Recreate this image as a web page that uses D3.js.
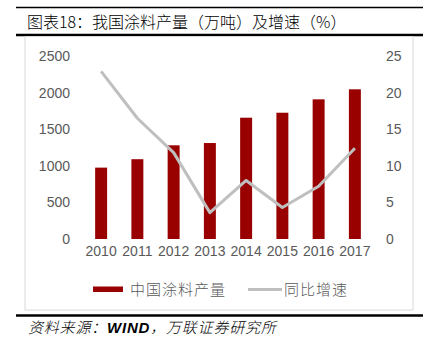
<!DOCTYPE html>
<html><head><meta charset="utf-8">
<script src="https://cdn.jsdelivr.net/npm/d3@7"></script>
<style>
html,body{margin:0;padding:0;background:#fff;}
svg{display:block;}
</style></head>
<body>
<script>
const years = ["2010","2011","2012","2013","2014","2015","2016","2017"];
const production = [975, 1090, 1280, 1311, 1657, 1725, 1908, 2045];
const growth = [22.9, 16.5, 11.8, 3.6, 8.0, 4.3, 7.2, 12.4];
const leftTicks = [0, 500, 1000, 1500, 2000, 2500];
const rightTicks = [0, 5, 10, 15, 20, 25];
const titleText = "图表18：我国涂料产量（万吨）及增速（%）";
const sourceParts = ["资料来源：", "WIND", "，万联证券研究所"];
const legendNames = ["中国涂料产量", "同比增速"];

const W = 423, H = 344;
const svg = d3.select("body").append("svg").attr("width", W).attr("height", H);
const cjk = "'Noto Sans CJK SC','Noto Sans',sans-serif";
const latin = "'Liberation Sans',Arial,sans-serif";

// frame lines
svg.append("line").attr("x1",16).attr("x2",423).attr("y1",7.5).attr("y2",7.5)
  .attr("stroke","#000").attr("stroke-width",1.5);
svg.append("line").attr("x1",16).attr("x2",423).attr("y1",35).attr("y2",35)
  .attr("stroke","#000").attr("stroke-width",2.5);
svg.append("rect").attr("x",25).attr("y",36.5).attr("width",388).attr("height",273.5)
  .attr("fill","none").attr("stroke","#d9d9d9").attr("stroke-width",1);
svg.append("line").attr("x1",16).attr("x2",423).attr("y1",315.5).attr("y2",315.5)
  .attr("stroke","#000").attr("stroke-width",2.5);

svg.append("text").attr("x",27).attr("y",27.5).text(titleText)
  .attr("font-family",cjk).attr("font-size",16).attr("font-weight",300).attr("fill","#000");
const src = svg.append("text").attr("x",28).attr("y",333)
  .attr("font-family",cjk).attr("font-size",15).attr("font-style","italic")
  .attr("font-weight",300).attr("letter-spacing",0.8).attr("fill","#000");
sourceParts.forEach((p,i)=>{
  src.append("tspan").text(p).attr("font-weight", i===1 ? 700 : 300)
    .attr("font-family", i===1 ? latin : cjk);
});

// scales
const x = d3.scaleBand().domain(years).range([83, 373]).paddingInner(0.67).paddingOuter(0.335);
const yL = d3.scaleLinear().domain([0, 2500]).range([239, 56]);
const yR = d3.scaleLinear().domain([0, 25]).range([239, 56]);

// axes
const axL = svg.append("g").attr("transform","translate(70,0)")
  .call(d3.axisLeft(yL).tickValues(leftTicks).tickFormat(d3.format("d")).tickSize(0).tickPadding(0));
const axR = svg.append("g").attr("transform","translate(386,0)")
  .call(d3.axisRight(yR).tickValues(rightTicks).tickFormat(d3.format("d")).tickSize(0).tickPadding(0));
const axB = svg.append("g").attr("transform","translate(0,246)")
  .call(d3.axisBottom(x).tickSize(0).tickPadding(0));
[axL, axR, axB].forEach(a => {
  a.select(".domain").remove();
  a.selectAll("text").attr("font-family",latin).attr("font-size",14).attr("fill","#595959");
});
axB.selectAll("text").attr("dy","0.71em");

// bars
svg.append("g").selectAll("rect").data(production).join("rect")
  .attr("x",(d,i)=>x(years[i])).attr("width",x.bandwidth())
  .attr("y",d=>yL(d)).attr("height",d=>yL(0)-yL(d))
  .attr("fill","#990000");

// line
const line = d3.line().x((d,i)=>x(years[i])+x.bandwidth()/2).y(d=>yR(d));
svg.append("path").datum(growth).attr("d",line)
  .attr("fill","none").attr("stroke","#bfbfbf").attr("stroke-width",3)
  .attr("stroke-linejoin","round");

// legend
const lg = svg.append("g");
lg.append("rect").attr("x",93).attr("y",286.5).attr("width",30).attr("height",5.5).attr("fill","#990000");
lg.append("text").attr("x",130).attr("y",294.5).text(legendNames[0])
  .attr("font-family",cjk).attr("font-size",15).attr("font-weight",300).attr("letter-spacing",1).attr("fill","#595959");
lg.append("line").attr("x1",248).attr("x2",282).attr("y1",289.5).attr("y2",289.5)
  .attr("stroke","#bfbfbf").attr("stroke-width",3);
lg.append("text").attr("x",284).attr("y",294.5).text(legendNames[1])
  .attr("font-family",cjk).attr("font-size",15).attr("font-weight",300).attr("letter-spacing",1).attr("fill","#595959");
</script>
</body></html>
